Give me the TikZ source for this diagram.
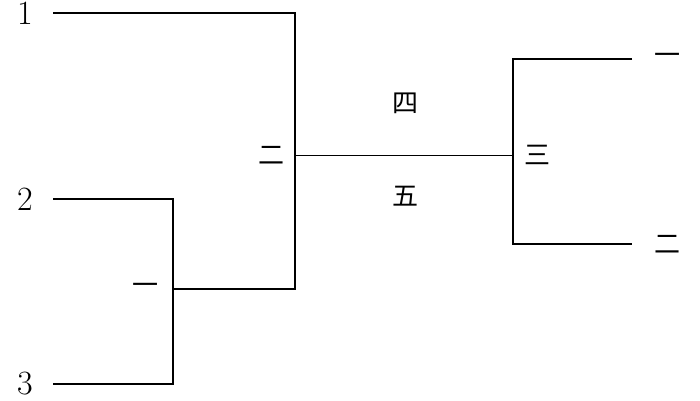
\documentclass[tikz,border=0pt]{standalone}
\usepackage{fontspec}
\newfontfamily\cjk{Noto Sans CJK SC}
\usetikzlibrary{positioning}

\begin{document}
\begin{tikzpicture}[x=1pt,y=-1pt,
		branch/.style={line width=1.3pt},
		num/.style={font=\fontsize{34}{34}\selectfont, inner sep=0pt},
		lab/.style={font=\cjk\fontsize{26}{26}\selectfont, inner sep=0pt}]
		\useasboundingbox (0,0) rectangle (700,400);
		% 叶子
		\coordinate (a1) at (53,13);
		\coordinate (a2) at (53,199);
		\coordinate (a3) at (53,384);
		\node[num] (t1) [left=20pt of a1] {1};
		\node[num] (t2) [left=20pt of a2] {2};
		\node[num] (t3) [left=20pt of a3] {3};
		
		% 分叉点
		\coordinate (j1) at (173,289);
		\coordinate (j2) at (295,155);
		\coordinate (j3) at (513,155);
		\coordinate (b1) at (632,59);
		\coordinate (b2) at (632,244);
		
		% 标签
		\node[lab] (c1) [left=14pt of j1] {一};
		\node[lab] (c2) [left=10pt of j2] {二};
		\node[lab] (c3) [right=11pt of j3] {三};
		\node[lab] (c4) at (405,103) {四};
		\node[lab] (c5) at (405,196) {五};
		\node[lab] (d1) [right=22pt of b1] {一};
		\node[lab] (d2) [right=22pt of b2] {二};
		
		\draw[branch] (a2) -| (j1) |- (a3);
		\draw[branch] (a1) -| (j2) |- (j1);
		\draw[line width=0.6pt] (j2) -- (j3);
		\draw[branch] (b1) -| (j3) |- (b2);
		
\end{tikzpicture}
\end{document}
